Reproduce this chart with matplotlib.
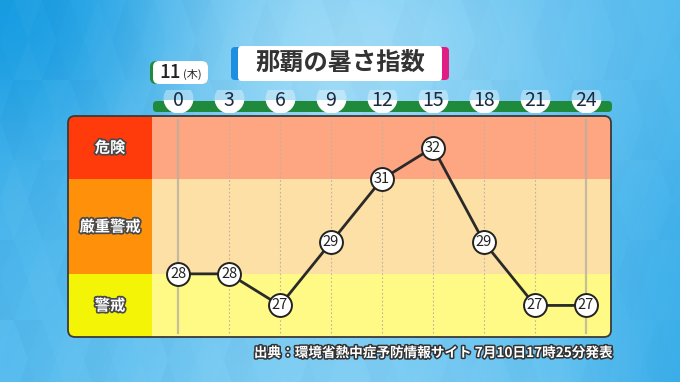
import matplotlib
matplotlib.use('Agg')
import matplotlib.pyplot as plt
import matplotlib.patheffects as pe
from matplotlib.patches import FancyBboxPatch, Rectangle
from matplotlib.collections import PolyCollection
from matplotlib.transforms import blended_transform_factory
import numpy as np

plt.rcParams['font.family'] = ['Noto Sans CJK JP', 'DejaVu Sans']

# data
hours = [0, 3, 6, 9, 12, 15, 18, 21, 24]
wbgt = [28, 28, 27, 29, 31, 32, 29, 27, 27]
levels = ['危険', '厳重警戒', '警戒']
level_bounds = [(31, 33), (28, 31), (25, 28)]
level_colors = ['#ff3b0c', '#ff900a', '#f4f406']
band_colors = ['#fea582', '#fde0a6', '#fffa86']
title = '那覇の暑さ指数'
day_label = '11'
weekday_label = '(木)'
source = '出典：環境省熱中症予防情報サイト 7月10日17時25分発表'

W, H = 680, 382
fig = plt.figure(figsize=(W / 100, H / 100), dpi=100)

# background (pixel coords)
bg = fig.add_axes([0, 0, 1, 1])
bg.set_xlim(0, W)
bg.set_ylim(H, 0)
bg.axis('off')
bg.set_autoscale_on(False)
yy, xx = np.mgrid[0:H, 0:W].astype(float)
base = np.array([0.30, 0.72, 0.93])
light = np.array([0.62, 0.86, 0.97])
dark = np.array([0.10, 0.62, 0.89])
g1 = np.exp(-(((xx - 330) / 240) ** 2 + ((yy - 60) / 190) ** 2))
g2 = np.exp(-(((xx - 330) / 260) ** 2 + ((yy - 400) / 120) ** 2)) * 0.6
d1 = np.exp(-((xx / 170) ** 2 + (yy / 170) ** 2))
d2 = np.clip((xx - 560) / 120, 0, 1) * np.clip(yy / 382, 0, 1) * 0.45
w_light = np.clip(g1 + g2, 0, 1)[..., None]
w_dark = np.clip(d1 + d2, 0, 1)[..., None]
img = base * (1 - w_light) + light * w_light
img = img * (1 - w_dark) + dark * w_dark
bg.imshow(np.clip(img, 0, 1), extent=[0, W, H, 0], aspect='auto', zorder=0)

# faint triangle pattern
tw, th = 28, 40
polys, cols = [], []
for r in range(-1, H // th + 2):
    for c in range(-1, W // tw * 2 + 4):
        xl = c * tw / 2 - (tw / 2 if r % 2 else 0)
        if c % 2 == 0:
            p = [(xl, r * th + th), (xl + tw / 2, r * th), (xl + tw, r * th + th)]
        else:
            p = [(xl, r * th), (xl + tw, r * th), (xl + tw / 2, r * th + th)]
        polys.append(p)
        k = (r * 7 + c * 3) % 5
        fade = 1 - 0.55 * min(max(xl, 0) / W, 1)
        cols.append((1, 1, 1, 0.035 * k / 4 * fade) if k % 2 else (0, 0.2, 0.5, 0.03 * k / 4 * fade))
bg.add_collection(PolyCollection(polys, facecolors=cols, edgecolors='none', zorder=1))

# main chart area
x0, x1, y_top, y_bot = 152, 611, 116, 337
ax = fig.add_axes([x0 / W, 1 - y_bot / H, (x1 - x0) / W, (y_bot - y_top) / H])
ax.set_xlim(-1.53, 25.47)
ax.set_ylim(26, 33)
ax.axis('off')

lab = fig.add_axes([68 / W, 1 - y_bot / H, (x0 - 68) / W, (y_bot - y_top) / H])
lab.set_xlim(0, 1)
lab.set_ylim(26, 33)
lab.axis('off')

clip = FancyBboxPatch((68, y_top), x1 - 68, y_bot - y_top,
                      boxstyle='round,pad=0,rounding_size=7', transform=bg.transData)

for name, (lo, hi), lc, bc in zip(levels, level_bounds, level_colors, band_colors):
    s = ax.axhspan(lo, hi, color=bc, lw=0, zorder=0)
    s.set_clip_path(clip)
    s2 = lab.axhspan(lo, hi, color=lc, lw=0, zorder=0)
    s2.set_clip_path(clip)
    t = lab.text(0.5, (max(lo, 26) + min(hi, 33)) / 2, name, ha='center', va='center',
                 fontsize=11, fontweight='bold', color='white')
    t.set_path_effects([pe.withStroke(linewidth=2.5, foreground='#4a4a4a')])

for h in hours:
    if h in (hours[0], hours[-1]):
        ax.axvline(h, ymin=0.02, ymax=0.98, color='#b9b0a0', lw=1.6, alpha=0.8, zorder=1)
    else:
        ax.axvline(h, ymin=0.02, ymax=0.98, color='#bdb3a3', lw=0.8, ls=(0, (1.5, 2)), zorder=1)

ax.plot(hours, wbgt, color='#2a2a2a', lw=2, zorder=3)
ax.plot(hours, wbgt, 'o', ms=16.5, mfc='white', mec='#222222', mew=1.4, zorder=4)
for h, v in zip(hours, wbgt):
    ax.text(h, v, str(v), ha='center', va='center', fontsize=10.5, color='#222222', zorder=5)

border = FancyBboxPatch((68, y_top), x1 - 68, y_bot - y_top,
                        boxstyle='round,pad=0,rounding_size=7', transform=bg.transData,
                        fill=False, ec='#3a3a3a', lw=1.3, zorder=6)
fig.add_artist(border)

# hour strip
bg.add_patch(FancyBboxPatch((153, 101), 459, 11, boxstyle='round,pad=0,rounding_size=4',
                            fc='#1f8a3c', ec='none', zorder=2))
trh = blended_transform_factory(ax.transData, bg.transData)
soft = bg.plot(hours, [98] * len(hours), 'o', transform=trh, ms=21.5, mfc='white',
               mec='none', alpha=0.35, zorder=3)[0]
soft.set_clip_path(Rectangle((0, 90), W, 22, transform=bg.transData))
solid = bg.plot(hours, [98] * len(hours), 'o', transform=trh, ms=21.5, mfc='white',
                mec='none', zorder=3)[0]
solid.set_clip_path(Rectangle((0, 100), W, 12, transform=bg.transData))
for h in hours:
    bg.text(h, 100, str(h), transform=trh, ha='center', va='center', fontsize=14,
            color='#1b2a40', zorder=4)

# date box
bg.add_patch(FancyBboxPatch((150, 61), 58, 23, boxstyle='round,pad=0,rounding_size=6',
                            fc='#1f8a3c', ec='none', zorder=2))
bg.add_patch(FancyBboxPatch((153, 61), 55, 23, boxstyle='round,pad=0,rounding_size=6',
                            fc='white', ec='none', zorder=3))
bg.text(170, 73, day_label, ha='center', va='center', fontsize=13.5, fontweight='medium',
        color='#222222', zorder=4)
bg.text(192, 74, weekday_label, ha='center', va='center', fontsize=8, color='#222222', zorder=4)

# title box
bg.add_patch(FancyBboxPatch((231, 47), 110, 33, boxstyle='round,pad=0,rounding_size=4',
                            fc='#1e8fe0', ec='none', zorder=2))
bg.add_patch(FancyBboxPatch((340, 47), 109, 33, boxstyle='round,pad=0,rounding_size=4',
                            fc='#e11d84', ec='none', zorder=2))
bg.add_patch(FancyBboxPatch((238, 46), 204, 35, boxstyle='round,pad=0,rounding_size=4',
                            fc='white', ec='none', zorder=3))
bg.text(340, 63, title, ha='center', va='center', fontsize=17.5, fontweight='bold',
        color='#333333', zorder=4)

# source
t = bg.text(613, 353, source, ha='right', va='center', fontsize=9.8, fontweight='bold',
            color='white', zorder=4)
t.set_path_effects([pe.withStroke(linewidth=2.2, foreground='#333333')])

fig.savefig('out.png', dpi=100)
